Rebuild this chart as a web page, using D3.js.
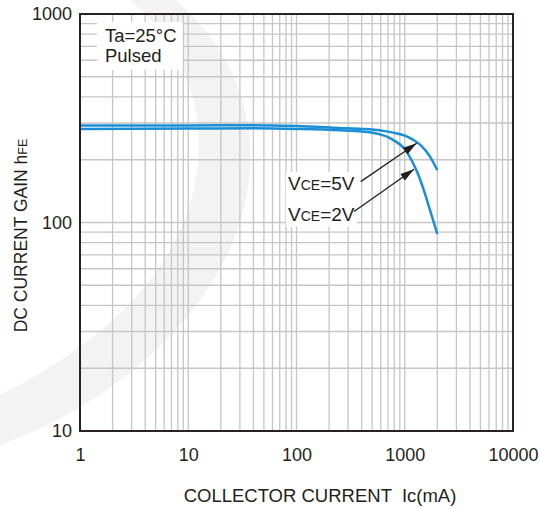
<!DOCTYPE html>
<html><head><meta charset="utf-8">
<script src="https://cdn.jsdelivr.net/npm/d3@7"></script>
<style>body{margin:0;background:#fff}svg{display:block}text{font-family:"Liberation Sans",Arial,Helvetica,sans-serif;fill:#231f20}</style>
</head><body><svg id="c" width="540" height="509"></svg>
<script>
// ---- data ----
const xTickValues = [1, 10, 100, 1000, 10000];
const yTickValues = [10, 100, 1000];
const ic5V  = [1, 10, 40, 100, 250, 400, 600, 800, 1000, 1200, 1400, 1700, 2000];
const hfe5V = [292, 292, 293, 290, 284, 281, 276, 269, 261, 249, 235, 208, 178];
const ic2V  = [1, 10, 40, 100, 250, 400, 600, 700, 800, 1000, 1150, 1300, 1500, 1700, 2000];
const hfe2V = [281, 282, 283, 281, 277, 273, 264, 257, 247, 225, 200, 175, 143, 116, 88];
const seriesNames = ["=5V", "=2V"];
const labelIc = [83.5, 83.5];
const labelHfe = [143, 102];
const arrowTail = [[392, 157], [340, 113]];
const arrowTip = [[1289, 240], [1218, 180]];
const noteLines = ["Ta=25°C", "Pulsed"];
const noteIc = 1.7;
const noteHfe = [735, 589];
const xTitle = "COLLECTOR CURRENT  Ic(mA)";
const yTitleMain = "DC CURRENT GAIN h";
const yTitleSub = "FE";

// ---- layout ----
const svg = d3.select("#c");
const L = 80, R = 513, T = 14, B = 431;
const x = d3.scaleLog().domain([1, 10000]).range([L, R]);
const y = d3.scaleLog().domain([10, 1000]).range([B, T]);
const blue = "#1b8fd6";

// faint watermark
const wm = svg.append("g");
wm.append("path")
  .attr("d", "M 175 0 C 260 70 280 190 200 300 C 150 370 70 420 0 445 L 0 395 C 70 360 140 310 175 240 C 220 150 200 60 130 0 Z")
  .attr("fill", "#f3f3f3");

// grid
const grid = svg.append("g");
const xGrid = [], yGrid = [];
xTickValues.slice(0, -1).forEach(d => { for (let k = 1; k <= 9; k++) if (!(k === 1 && d === 1)) xGrid.push(d * k); });
yTickValues.slice(0, -1).forEach(d => { for (let k = 1; k <= 9; k++) if (!(k === 1 && d === 10)) yGrid.push(d * k); });
grid.selectAll(".vx").data(xGrid).join("line")
  .attr("x1", d => x(d)).attr("x2", d => x(d)).attr("y1", T).attr("y2", B)
  .attr("stroke", "#c6c6c6").attr("stroke-width", 1.3);
grid.selectAll(".hy").data(yGrid).join("line")
  .attr("y1", d => y(d)).attr("y2", d => y(d)).attr("x1", L).attr("x2", R)
  .attr("stroke", "#c6c6c6").attr("stroke-width", 1.3);

// curves
const line = d3.line().x(d => x(d[0])).y(d => y(d[1])).curve(d3.curveMonotoneX);
const series = [d3.zip(ic5V, hfe5V), d3.zip(ic2V, hfe2V)];
svg.append("g").selectAll("path").data(series).join("path")
  .attr("d", line).attr("fill", "none").attr("stroke", blue).attr("stroke-width", 2.5);

// note box
const note = svg.append("g");
const noteRect = note.append("rect").attr("fill", "#fff");
note.selectAll("text").data(noteLines).join("text")
  .attr("x", x(noteIc)).attr("y", (d, i) => y(noteHfe[i]))
  .attr("font-size", 18.5).text(d => d);
const nb = note.node().getBBox();
noteRect.attr("x", x(noteIc) - 8).attr("y", y(noteHfe[0]) - 20)
  .attr("width", nb.width + 14).attr("height", y(noteHfe[1]) - y(noteHfe[0]) + 28);

// series labels
const lab = svg.append("g");
const labRect = lab.append("rect").attr("fill", "#fff");
const labTexts = lab.selectAll("text").data(seriesNames).join("text")
  .attr("x", (d, i) => x(labelIc[i])).attr("y", (d, i) => y(labelHfe[i]))
  .attr("font-size", 19);
labTexts.append("tspan").text("V");
labTexts.append("tspan").attr("font-size", 14).text("CE");
labTexts.append("tspan").text(d => d);
const lb = lab.node().getBBox();
labRect.attr("x", lb.x - 2).attr("y", lb.y - 1).attr("width", lb.width + 4).attr("height", lb.height + 3);

// arrows
const defs = svg.append("defs");
defs.append("marker").attr("id", "ah").attr("viewBox", "0 0 14 8").attr("refX", 14).attr("refY", 4)
  .attr("markerWidth", 14).attr("markerHeight", 8).attr("markerUnits", "userSpaceOnUse").attr("orient", "auto")
  .append("path").attr("d", "M0,0 L14,4 L0,8 Z").attr("fill", "#231f20");
svg.append("g").selectAll("line").data(d3.range(arrowTail.length)).join("line")
  .attr("x1", i => x(arrowTail[i][0])).attr("y1", i => y(arrowTail[i][1]))
  .attr("x2", i => x(arrowTip[i][0])).attr("y2", i => y(arrowTip[i][1]))
  .attr("stroke", "#231f20").attr("stroke-width", 1.3).attr("marker-end", "url(#ah)");

// frame
svg.append("rect").attr("x", L).attr("y", T).attr("width", R - L).attr("height", B - T)
  .attr("fill", "none").attr("stroke", "#2a2222").attr("stroke-width", 2);

// axes
const xAxis = d3.axisBottom(x).tickValues(xTickValues).tickFormat(d3.format("d")).tickSize(0).tickPadding(17);
const gx = svg.append("g").attr("transform", `translate(0,${B})`).call(xAxis);
gx.select(".domain").remove();
gx.selectAll("text").attr("font-size", 18).attr("fill", "#231f20").style("font-family", '"Liberation Sans",Arial,sans-serif');

const yAxis = d3.axisLeft(y).tickValues(yTickValues).tickFormat(d3.format("d")).tickSize(0).tickPadding(8);
const gy = svg.append("g").attr("transform", `translate(${L},0)`).call(yAxis);
gy.select(".domain").remove();
gy.selectAll("text").attr("font-size", 18).attr("fill", "#231f20").style("font-family", '"Liberation Sans",Arial,sans-serif');

// titles
svg.append("text").attr("x", 320).attr("y", 502).attr("text-anchor", "middle")
  .attr("font-size", 18.5).style("white-space", "pre").text(xTitle);
const yt = svg.append("text").attr("transform", `translate(27,${(T + B) / 2 + 13}) rotate(-90)`)
  .attr("text-anchor", "middle").attr("font-size", 17.5);
yt.append("tspan").text(yTitleMain);
yt.append("tspan").attr("font-size", 12.5).text(yTitleSub);
</script></body></html>
